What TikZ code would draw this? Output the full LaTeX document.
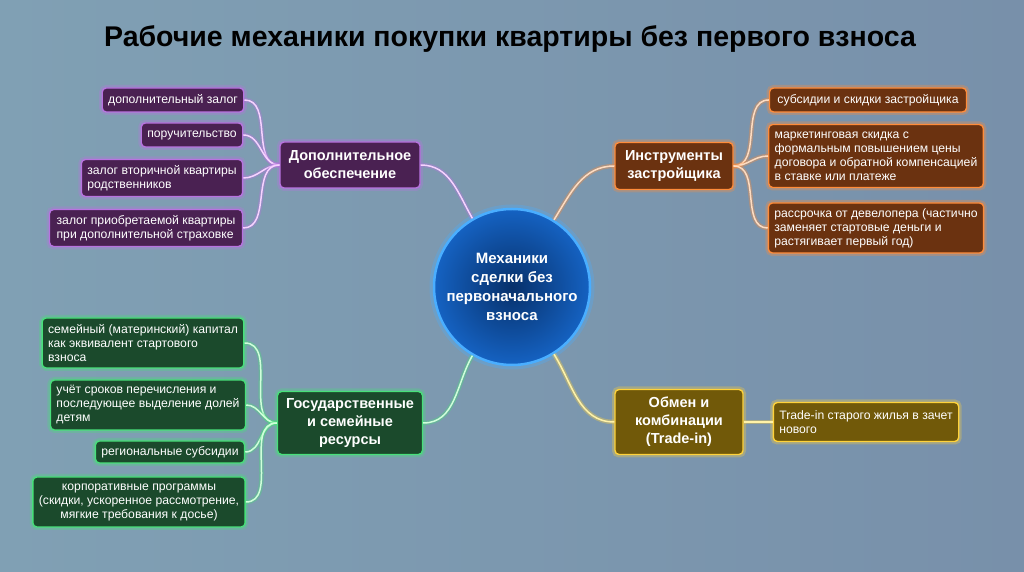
\documentclass[tikz,border=0pt]{standalone}
\usepackage{fontspec}
\setmainfont{Liberation Sans}
\usetikzlibrary{shapes.geometric}
\definecolor{bgL}{HTML}{80A0B4}
\definecolor{bgR}{HTML}{7890AA}
\definecolor{purpF}{HTML}{4A2152}
\definecolor{purpB}{HTML}{B873E0}
\definecolor{purpC}{HTML}{F6D2FF}
\definecolor{oranF}{HTML}{6B3210}
\definecolor{oranB}{HTML}{FF8C3A}
\definecolor{oranC}{HTML}{FFDCC0}
\definecolor{greeF}{HTML}{1B4A2C}
\definecolor{greeB}{HTML}{48E07A}
\definecolor{greeC}{HTML}{CFFFDA}
\definecolor{yellF}{HTML}{715909}
\definecolor{yellB}{HTML}{FFD23A}
\definecolor{yellC}{HTML}{FFF2A8}
\definecolor{cirIn}{HTML}{07306A}
\definecolor{cirOut}{HTML}{1562C2}
\definecolor{cirB}{HTML}{4AAEFF}
\tikzset{
  box/.style={rounded corners=4pt, text=white, line width=1.4pt, inner xsep=6pt, inner ysep=3pt},
  leaf/.style={box, font=\fontsize{12.2}{14}\selectfont, align=left},
  hub/.style={box, font=\fontsize{14.5}{18}\bfseries\selectfont, align=center},
  pbox/.style={draw=purpB, fill=purpF, preaction={draw=purpB, line width=6pt, opacity=0.3}},
  obox/.style={draw=oranB, fill=oranF, preaction={draw=oranB, line width=6pt, opacity=0.3}},
  gbox/.style={draw=greeB, fill=greeF, preaction={draw=greeB, line width=6pt, opacity=0.3}},
  ybox/.style={draw=yellB, fill=yellF, preaction={draw=yellB, line width=6pt, opacity=0.3}},
  conn/.style={line width=1.5pt},
  pconn/.style={conn, draw=purpC, preaction={draw=purpB, line width=4.5pt, opacity=0.35}},
  oconn/.style={conn, draw=oranC, preaction={draw=oranB, line width=4.5pt, opacity=0.35}},
  gconn/.style={conn, draw=greeC, preaction={draw=greeB, line width=4.5pt, opacity=0.35}},
  yconn/.style={conn, draw=yellC, preaction={draw=yellB, line width=4.5pt, opacity=0.35}},
}
\begin{document}
\begin{tikzpicture}[x=1pt,y=1pt]
\useasboundingbox (0,0) rectangle (1024,572);
\fill[left color=bgL, right color=bgR] (0,0) rectangle (1024,572);

\node[font=\fontsize{28.5}{32}\bfseries\selectfont, text=black] (title) at (510,533) {Рабочие механики покупки квартиры без первого взноса};

% center
\node[circle, minimum size=156pt, inner sep=0pt, draw=cirB, line width=2.5pt,
      inner color=cirIn, outer color=cirOut,
      preaction={draw=cirB, line width=9pt, opacity=0.3},
      font=\fontsize{15}{19}\bfseries\selectfont, text=white, align=center] (C) at (512,285)
  {Механики\\сделки без\\первоначального\\взноса};

% purple
\node[hub, pbox, minimum width=140pt, minimum height=46pt] (PM) at (350,407) {Дополнительное\\обеспечение};
\node[leaf, pbox, minimum width=139pt, minimum height=24pt] (P1) at (173,472) {дополнительный залог};
\node[leaf, pbox, minimum width=101pt, minimum height=24pt] (P2) at (192,437) {поручительство};
\node[leaf, pbox, minimum width=161pt, minimum height=37pt] (P3) at (162,394) {залог вторичной квартиры\\родственников};
\node[leaf, pbox, minimum width=193pt, minimum height=37pt] (P4) at (146,344) {залог приобретаемой квартиры\\при дополнительной страховке};

% orange
\node[hub, obox, minimum width=118pt, minimum height=47pt] (OM) at (674,406) {Инструменты\\застройщика};
\node[leaf, obox, minimum width=197pt, minimum height=24pt] (O1) at (868,472) {субсидии и скидки застройщика};
\node[leaf, obox, minimum width=213pt, minimum height=63pt] (O2) at (876,416) {маркетинговая скидка с\\формальным повышением цены\\договора и обратной компенсацией\\в ставке или платеже};
\node[leaf, obox, minimum width=213pt, minimum height=50pt] (O3) at (876,344) {рассрочка от девелопера (частично\\заменяет стартовые деньги и\\растягивает первый год)};

% green
\node[hub, gbox, minimum width=145pt, minimum height=63pt] (GM) at (350,149) {Государственные\\и семейные\\ресурсы};
\node[leaf, gbox, minimum width=200pt, minimum height=50pt] (G1) at (143,229) {семейный (материнский) капитал\\как эквивалент стартового\\взноса};
\node[leaf, gbox, minimum width=190pt, minimum height=50pt] (G2) at (148,167) {учёт сроков перечисления и\\последующее выделение долей\\детям};
\node[leaf, gbox, minimum width=146pt, minimum height=22pt] (G3) at (170,120) {региональные субсидии};
\node[leaf, gbox, align=center, minimum width=208pt, minimum height=50pt] (G4) at (139,70) {корпоративные программы\\(скидки, ускоренное рассмотрение,\\мягкие требования к досье)};

% yellow
\node[hub, ybox, minimum width=128pt, minimum height=65pt] (YM) at (679,150) {Обмен и\\комбинации\\(Trade-in)};
\node[leaf, ybox, minimum width=185pt, minimum height=39pt] (Y1) at (866,150) {Trade-in старого жилья в зачет\\нового};

% connectors
\foreach \n in {P1,P2,P3,P4} \draw[pconn] (\n.east) to[out=0,in=180] (PM.west);
\foreach \n in {O1,O2,O3} \draw[oconn] (OM.east) to[out=0,in=180] (\n.west);
\foreach \n in {G1,G2,G3,G4} \draw[gconn] (\n.east) to[out=0,in=180] (GM.west);
\draw[yconn] (YM.east) -- (Y1.west);

\draw[pconn] (PM.east) to[out=0,in=120] (C.120);
\draw[oconn] (OM.west) to[out=180,in=58] (C.58);
\draw[gconn] (GM.east) to[out=0,in=240] (C.240);
\draw[yconn] (YM.west) to[out=180,in=302] (C.302);
\end{tikzpicture}
\end{document}
